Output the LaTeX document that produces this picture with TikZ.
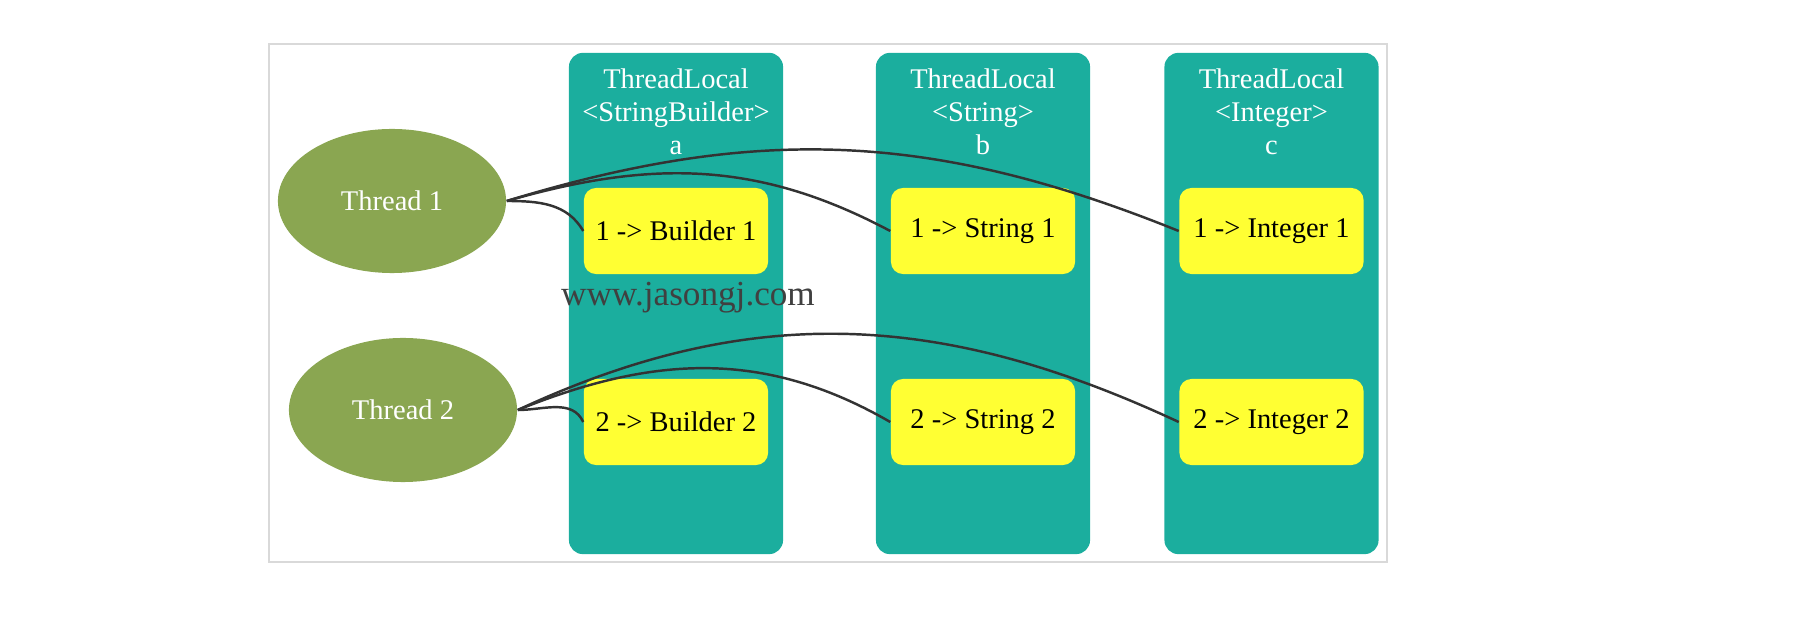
\documentclass[tikz,border=0pt]{standalone}
\usepackage{fontspec}
\setmainfont{Liberation Serif}
\usetikzlibrary{shapes.geometric}
\definecolor{tlteal}{RGB}{27,174,158}
\definecolor{thgreen}{RGB}{138,166,81}
\definecolor{mapyellow}{RGB}{255,255,51}
\definecolor{framegray}{RGB}{217,217,217}
\definecolor{linkgray}{RGB}{51,51,51}
\definecolor{markgray}{RGB}{64,64,64}

\begin{document}
\begin{tikzpicture}[x=0.01cm, y=0.01cm,
    every node/.style={font=\fontsize{8.1}{9.4}\selectfont},
    thread/.style={ellipse, fill=thgreen, text=white, minimum width=2.28cm, minimum height=1.44cm, inner sep=0pt},
    tlcol/.style={fill=tlteal, rounded corners=1.4mm, minimum width=2.14cm, minimum height=5.01cm, inner sep=0pt},
    tltitle/.style={text=white, align=center},
    entry/.style={fill=mapyellow, rounded corners=1.2mm, minimum width=1.84cm, minimum height=0.86cm, inner sep=0pt},
    link/.style={draw=linkgray, line width=0.7pt}]
  \useasboundingbox (0,0) rectangle (1820,624);

  % 1. outer frame
  \draw[framegray, line width=0.4pt] (269,62) rectangle (1387,580);

  % 2. ThreadLocal columns
  \node[tlcol] (colA) at (676,320.5) {};
  \node[tlcol] (colB) at (983,320.5) {};
  \node[tlcol] (colC) at (1271.5,320.5) {};
  \node[tltitle] (titleA) at (676,512) {ThreadLocal\\<StringBuilder>\\a};
  \node[tltitle] (titleB) at (983,512) {ThreadLocal\\<String>\\b};
  \node[tltitle] (titleC) at (1271.5,512) {ThreadLocal\\<Integer>\\c};

  % 3. per-thread values
  \node[entry] (b1) at (676,393) {1 -> Builder 1};
  \node[entry] (s1) at (983,393) {1 -> String 1};
  \node[entry] (i1) at (1271.5,393) {1 -> Integer 1};
  \node[entry] (b2) at (676,202) {2 -> Builder 2};
  \node[entry] (s2) at (983,202) {2 -> String 2};
  \node[entry] (i2) at (1271.5,202) {2 -> Integer 2};

  % 4. threads
  \node[thread] (t1) at (392,423) {Thread 1};
  \node[thread] (t2) at (403,214) {Thread 2};

  % 5. links
  \draw[link] (t1.east) to[out=0, in=120] (b1.west);
  \draw[link] (t1.east) to[out=16, in=152] (s1.west);
  \draw[link] (t1.east) to[out=17, in=158] (i1.west);
  \draw[link] (t2.east) to[out=0, in=115] (b2.west);
  \draw[link] (t2.east) to[out=22, in=150] (s2.west);
  \draw[link] (t2.east) to[out=25, in=155] (i2.west);

  % watermark
  \node[text=markgray, font=\fontsize{10}{12}\selectfont] (mark) at (688,326) {www.jasongj.com};
\end{tikzpicture}
\end{document}
